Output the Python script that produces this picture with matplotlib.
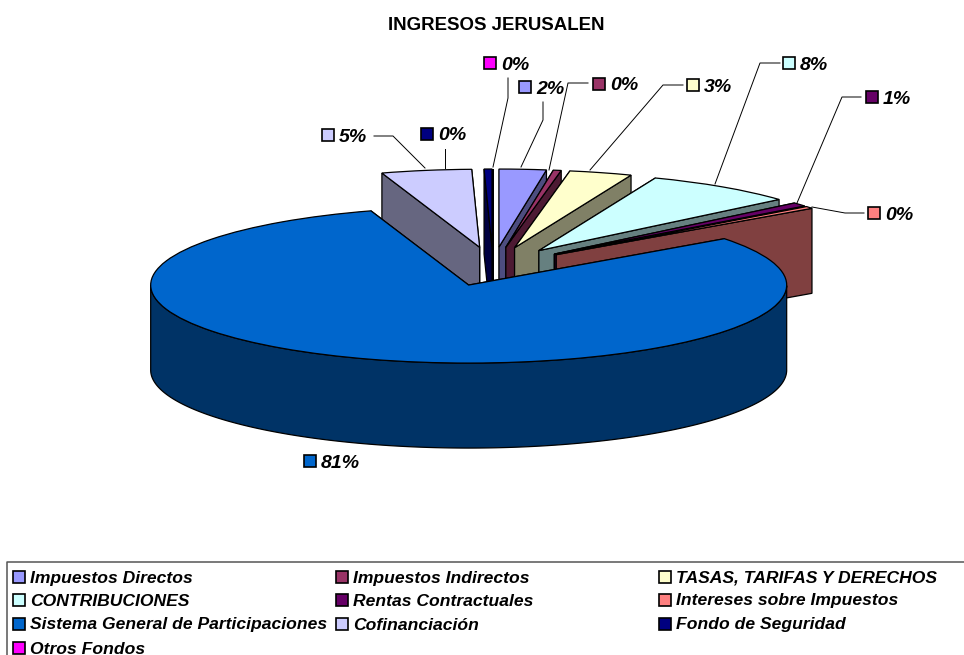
# INGRESOS JERUSALEN - tarta 3D con sectores separados
import matplotlib
matplotlib.use('Agg')
import matplotlib.pyplot as plt
import numpy as np

plt.rcParams['font.family'] = ['Liberation Sans', 'DejaVu Sans']

categories = ['Impuestos Directos', 'Impuestos Indirectos', 'TASAS, TARIFAS Y DERECHOS',
              'CONTRIBUCIONES', 'Rentas Contractuales', 'Intereses sobre Impuestos',
              'Sistema General de Participaciones', 'Cofinanciación',
              'Fondo de Seguridad', 'Otros Fondos']
values = [2.4, 0.4, 3.2, 7.7, 0.8, 0.45, 80.6, 4.6, 0.4, 0.0]
colors = ['#9999FF', '#993366', '#FFFFCC', '#CCFFFF', '#660066',
          '#FF8080', '#0066CC', '#CCCCFF', '#000080', '#FF00FF']

# posiciones de la figura, en pixeles
W, H = 964, 655
CX, CY = 493, 266.5
RX, RY = 318, 78
DEPTH = 85 / RY
EXPLODE = 0.25

# etiqueta: cuadrito (x, y) y linea guia
label_pos = [(525, 87), (599, 84), (693, 85), (789, 63), (872, 97),
             (874, 213), (310, 461), (328, 135), (427, 134), (490, 63)]
leaders = [[(543, 102), (543, 120), (521, 167)],
           [(588, 83), (568, 83), (549, 170)],
           [(683, 85), (663, 85), (590, 170)],
           [(780, 63), (760, 63), (715, 184)],
           [(861, 97), (842, 97), (797, 203)],
           [(864, 213), (845, 213), (812, 207)],
           None,
           [(374, 136), (393, 136), (425, 168)],
           [(445, 149), (445, 168)],
           [(508, 78), (508, 98), (493, 167)]]
legend_cols = [19, 342, 665]
legend_rows = [577, 600, 624, 648]

fig = plt.figure(figsize=(W / 100, H / 100), dpi=100)
ax = fig.add_axes([0, 0, 1, 1])
wedges, _ = ax.pie(values, colors=colors, startangle=90, counterclock=False,
                   explode=[EXPLODE] * len(values), radius=1,
                   wedgeprops={'edgecolor': 'black', 'linewidth': 0.9})
ax.set_aspect('auto')
ax.set_xlim(-CX / RX, (W - CX) / RX)
ax.set_ylim((CY - H) / RY, CY / RY)
ax.axis('off')


def darken(c):
    r, g, b = matplotlib.colors.to_rgb(c)
    return (r * 0.5, g * 0.5, b * 0.5)


# orden de pintado: del fondo hacia el frente, el sector grande al final
order = [7, 8, 9, 0, 1, 2, 3, 4, 5, 6]
for z, i in enumerate(order):
    w = wedges[i]
    cx, cy = w.center
    side = darken(colors[i])
    base = 3 + z * 4
    # paredes de corte: primero la de atras
    cuts = sorted((w.theta1, w.theta2), key=lambda t: -np.sin(np.deg2rad(t)))
    for t in cuts:
        a = np.deg2rad(t)
        rim = (cx + np.cos(a), cy + np.sin(a))
        xs = [cx, rim[0], rim[0], cx]
        ys = [cy, rim[1], rim[1] - DEPTH, cy - DEPTH]
        ax.fill(xs, ys, facecolor=side, edgecolor='black', linewidth=0.9, zorder=base)
    # pared exterior, solo la parte que mira al frente
    th = np.deg2rad(np.linspace(w.theta1, w.theta2, 400))
    th = th[np.sin(th) <= 0]
    if len(th) > 1:
        xs = np.r_[cx + np.cos(th), cx + np.cos(th[::-1])]
        ys = np.r_[cy + np.sin(th), cy + np.sin(th[::-1]) - DEPTH]
        ax.fill(xs, ys, facecolor=side, edgecolor='black', linewidth=0.9, zorder=base + 1)
    w.set_zorder(base + 2)

# capa en pixeles para textos, guias y leyenda
ov = fig.add_axes([0, 0, 1, 1], facecolor='none')
ov.set_xlim(0, W)
ov.set_ylim(H, 0)
ov.axis('off')

ov.text(496, 25.5, 'INGRESOS JERUSALEN', ha='center', va='center',
        fontsize=13.4, fontweight='bold')

for i, v in enumerate(values):
    mx, my = label_pos[i]
    ov.plot(mx, my, 's', ms=8, mfc=colors[i], mec='black', mew=1.2)
    ov.text(mx + 11, my + 6.5, f'{v:.0f}%', ha='left', va='baseline', fontsize=14,
            fontweight='bold', fontstyle='italic')
    if leaders[i]:
        xs, ys = zip(*leaders[i])
        ov.plot(xs, ys, color='black', lw=0.7)

# leyenda
ov.plot([7, 7, W], [H, 562, 562], color='#555555', lw=1.1, clip_on=False)
for i, name in enumerate(categories):
    row, col = divmod(i, 3)
    x, y = legend_cols[col], legend_rows[row]
    ov.plot(x, y, 's', ms=8, mfc=colors[i], mec='black', mew=1.2)
    ov.text(x + 11, y + 5.5, name, ha='left', va='baseline', fontsize=12.6,
            fontweight='bold', fontstyle='italic')

fig.savefig('out.png', dpi=100)
